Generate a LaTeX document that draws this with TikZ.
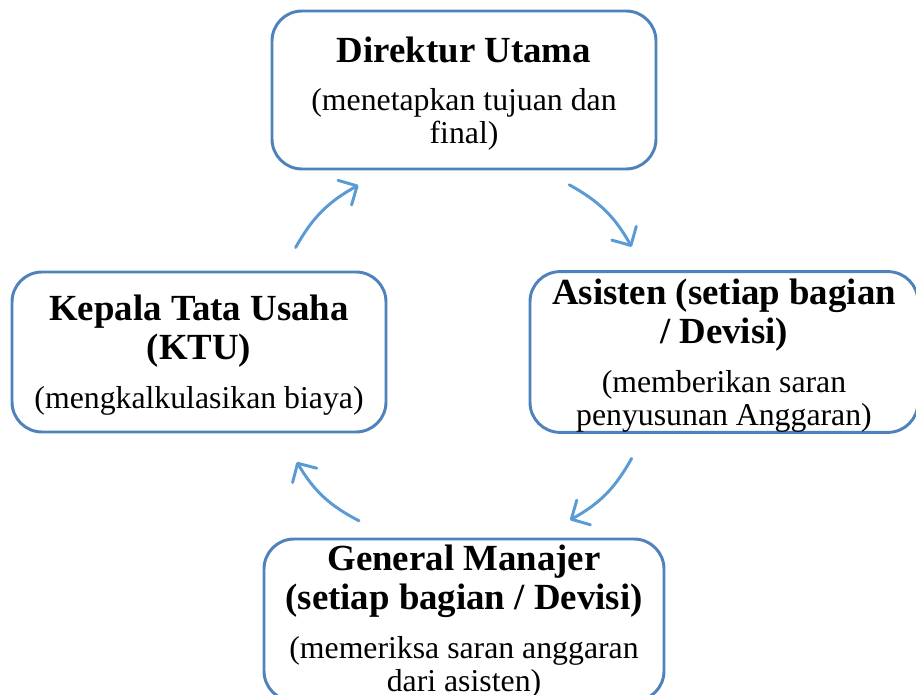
\documentclass[tikz,border=0pt]{standalone}
\usepackage{fontspec}
\setmainfont{Liberation Serif}
\usetikzlibrary{arrows.meta}
\definecolor{boxblue}{RGB}{79,129,189}
\definecolor{arrowblue}{RGB}{91,155,213}
\newcommand{\judul}[1]{{\bfseries\fontsize{26.2}{28.5}\selectfont #1}}
\newcommand{\turun}[1]{\rule{0pt}{#1}}
\tikzset{
  stage/.style={draw=boxblue, line width=2.1pt, rounded corners=0.75cm, fill=white,
    align=center, inner sep=0pt, font=\fontsize{22.6}{23.5}\selectfont},
  putar/.style={draw=arrowblue, line width=2.1pt, line cap=round,
    -{Straight Barb[length=10pt,width=20pt,round]}, bend left=16}
}

\begin{document}
\begin{tikzpicture}
		%%%%% FRAME %%%%%
		\useasboundingbox (0,0) rectangle (22.9,17.35);
		\clip (0,0) rectangle (22.9,17.35);
		
		%%%%% BOXES %%%%%
		\node[stage, minimum width=9.6cm, minimum height=3.95cm] (dirut) at (11.6,15.1)
			{\turun{23pt}\judul{Direktur Utama}\\[11pt] (menetapkan tujuan dan\\ final)};
		\node[stage, minimum width=9.7cm, minimum height=4cm] (asisten) at (18.1,8.55)
			{\turun{23.5pt}\judul{Asisten (setiap bagian}\\[3pt] \judul{/ Devisi)}\\[11pt] (memberikan saran\\ penyusunan Anggaran)};
		\node[stage, minimum width=10cm, minimum height=4.05cm] (gm) at (11.6,1.85)
			{\turun{20.5pt}\judul{General Manajer}\\[3pt] \judul{(setiap bagian / Devisi)}\\[11pt] (memeriksa saran anggaran\\ dari asisten)};
		\node[stage, minimum width=9.35cm, minimum height=4cm] (ktu) at (4.975,8.55)
			{\turun{23pt}\judul{Kepala Tata Usaha}\\[3pt] \judul{(KTU)}\\[11pt] (mengkalkulasikan biaya)};
		
		%%%%% ARROW ENDS %%%%%
		\coordinate (ktu-out) at (7.39,11.16);
		\coordinate (dirut-in) at (8.96,12.72);
		\coordinate (dirut-out) at (14.23,12.73);
		\coordinate (asisten-in) at (15.79,11.18);
		\coordinate (asisten-out) at (15.79,5.89);
		\coordinate (gm-in) at (14.25,4.35);
		\coordinate (gm-out) at (8.975,4.33);
		\coordinate (ktu-in) at (7.42,5.8);
		
		%%%%% CYCLE %%%%%
		\draw[putar] (ktu-out) to (dirut-in);
		\draw[putar] (dirut-out) to (asisten-in);
		\draw[putar] (asisten-out) to (gm-in);
		\draw[putar] (gm-out) to (ktu-in);
\end{tikzpicture}
\end{document}
